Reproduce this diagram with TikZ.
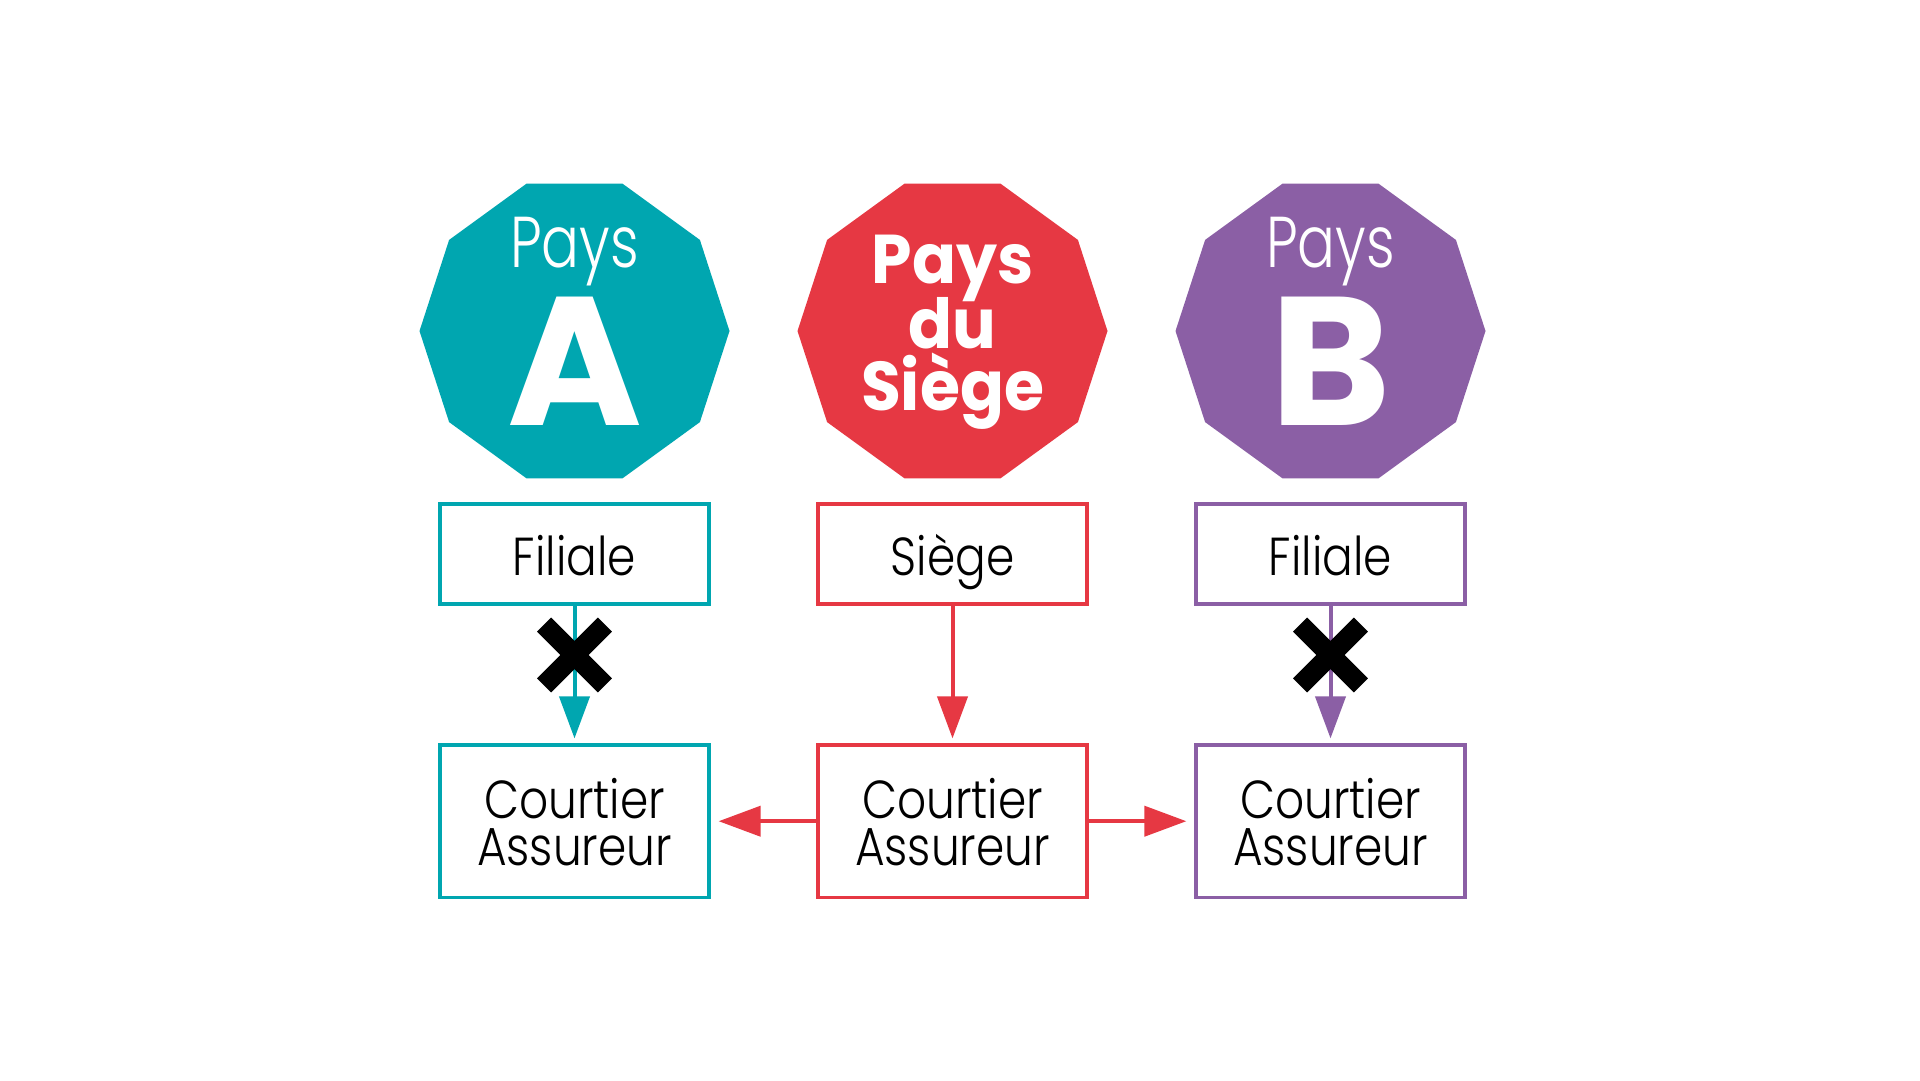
\documentclass[tikz,border=0pt]{standalone}
\usepackage{fontspec}
\setmainfont{Poppins}
\newfontfamily\boxf{Poppins Light}[FakeStretch=0.85]
\newfontfamily\payf{Poppins Light}[FakeStretch=0.78]
\newfontfamily\boldf{Poppins}[FakeStretch=0.94]
\newfontfamily\bigf{Poppins}
\usetikzlibrary{shapes.geometric,arrows.meta,calc}
\definecolor{cteal}{HTML}{00A6B0}
\definecolor{cred}{HTML}{E63843}
\definecolor{cpurp}{HTML}{8B5FA5}
\tikzset{
  deca/.style={regular polygon, regular polygon sides=10, minimum size=310pt, inner sep=0pt, outer sep=0pt, draw=none},
  boxnode/.style={draw, line width=3.3pt, minimum width=269pt, inner sep=0pt, fill=white},
  topbox/.style={boxnode, minimum height=100pt},
  botbox/.style={boxnode, minimum height=152.3pt},
  txt/.style={anchor=base, inner sep=0pt, outer sep=0pt, text=black, font=\boxf\fontsize{53.5}{46.7}\selectfont},
  paysw/.style={anchor=base, inner sep=0pt, outer sep=0pt, text=white, font=\payf\fontsize{72}{80}\selectfont},
  bigl/.style={anchor=base, inner sep=0pt, outer sep=0pt, text=white, font=\bigf\bfseries\fontsize{183}{190}\selectfont},
  boldw/.style={anchor=base, inner sep=0pt, outer sep=0pt, text=white, font=\boldf\bfseries\fontsize{69}{75}\selectfont},
  conn/.style={line width=4pt, -{Triangle[width=30pt,length=42pt]}},
  xmark/.style={line width=20pt, black},
}
\begin{document}
\begin{tikzpicture}[x=1pt,y=-1pt]
\useasboundingbox[fill=white] (0,0) rectangle (1920,1080);

% decagons
\node[deca, fill=cteal] (da) at (574.5,331) {};
\node[deca, fill=cred] (ds) at (952.5,331) {};
\node[deca, fill=cpurp] (db) at (1330.5,331) {};

\node[paysw] (pa) at (574.5,267.3) {Pays};
\node[bigl] (la) at (574.5,425) {A};
\node[paysw] (pb) at (1330.5,267.3) {Pays};
\node[bigl] (lb) at (1330.5,425) {B};
\node[boldw] (s1) at (952.5,283.3) {Pays};
\node[boldw] (s2) at (952.5,348.3) {du};
\node[boldw] (s3) at (952.5,410) {Siège};

% boxes
\node[topbox, draw=cteal] (fa) at (574.5,554) {};
\node[topbox, draw=cred] (fs) at (952.5,554) {};
\node[topbox, draw=cpurp] (fb) at (1330.5,554) {};
\node[botbox, draw=cteal] (ca) at (574.5,821.2) {};
\node[botbox, draw=cred] (cs) at (952.5,821.2) {};
\node[botbox, draw=cpurp] (cb) at (1330.5,821.2) {};

\node[txt] (tfa) at (574.5,575) {Filiale};
\node[txt] (tfs) at (952.5,575) {Siège};
\node[txt] (tfb) at (1330.5,575) {Filiale};
\foreach \n/\x in {a/574.5,s/952.5,b/1330.5}{
  \node[txt, align=center] (tc\n) at (\x,865) {Courtier\\Assureur};
}

% connectors
\draw[conn, cteal, shorten >=5pt] (fa.south) -- (ca.north);
\draw[conn, cred, shorten >=5pt] (fs.south) -- (cs.north);
\draw[conn, cpurp, shorten >=5pt] (fb.south) -- (cb.north);
\draw[conn, cred, shorten >=8pt] (cs.west) -- (ca.east);
\draw[conn, cred, shorten >=8pt] (cs.east) -- (cb.west);

% crosses
\coordinate (xa) at (574.5,655);
\coordinate (xb) at (1330.5,655);
\foreach \c in {xa,xb}{
  \draw[xmark] ($(\c)+(-30.4,-30.4)$) -- ($(\c)+(30.4,30.4)$);
  \draw[xmark] ($(\c)+(-30.4,30.4)$) -- ($(\c)+(30.4,-30.4)$);
}
\end{tikzpicture}
\end{document}
